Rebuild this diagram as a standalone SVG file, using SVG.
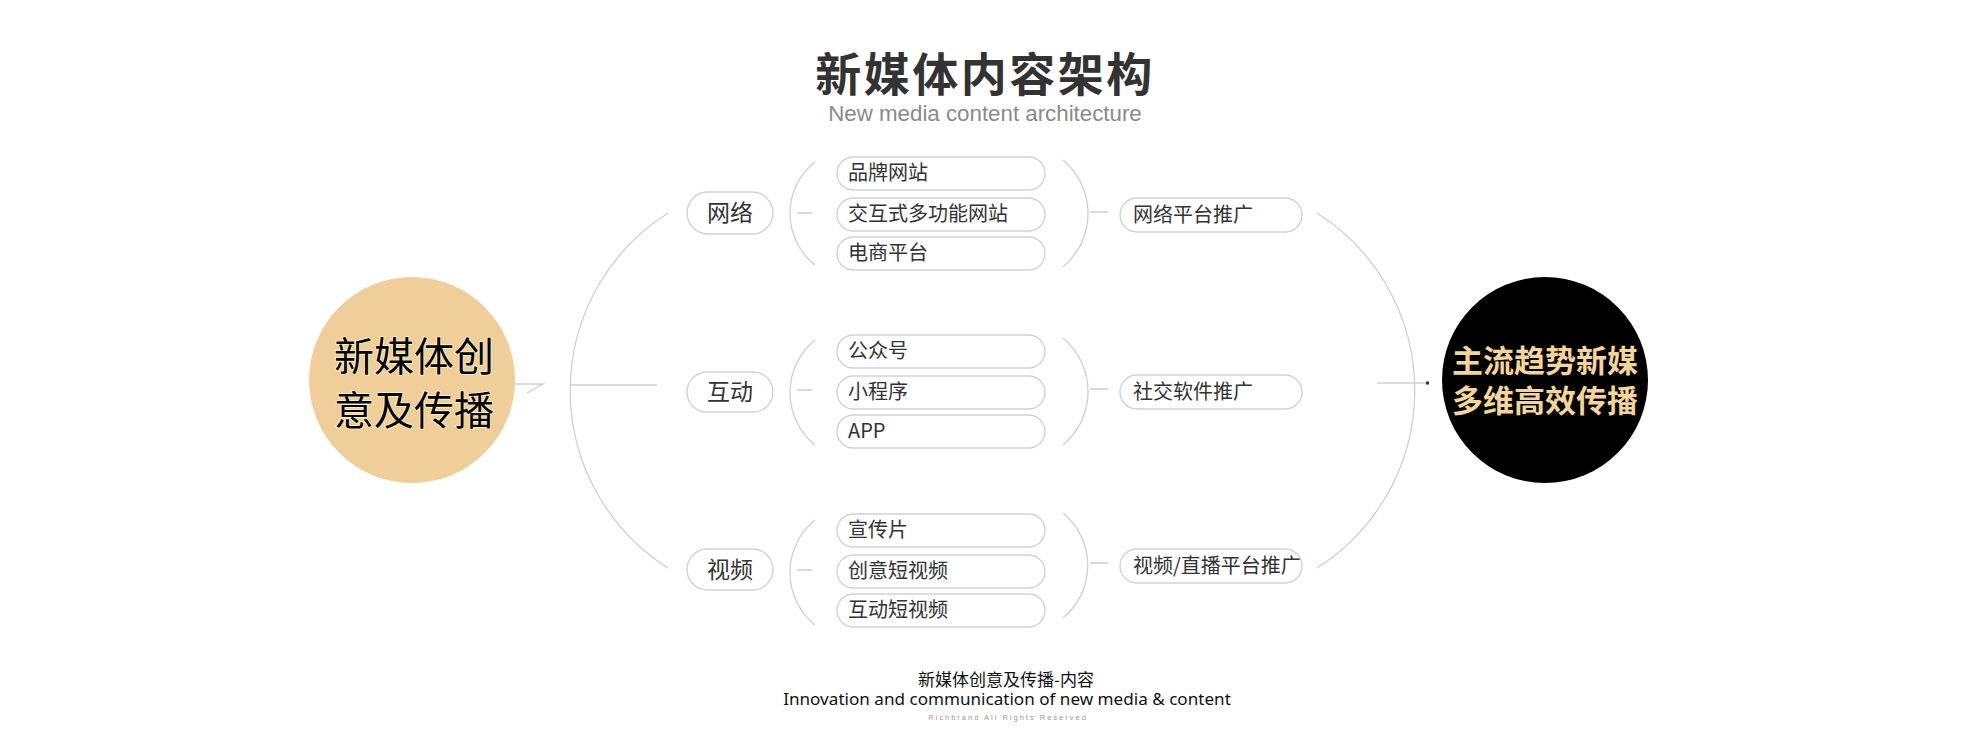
<svg xmlns="http://www.w3.org/2000/svg" width="1980" height="735" viewBox="0 0 1980 735">
<style>
.line{fill:none;stroke:#cfcfcf;stroke-width:1.3}
.pill{fill:#fff;stroke:#d2d2d2;stroke-width:1.4}
.t1{font-family:"Noto Sans CJK SC","Noto Sans",sans-serif;font-size:23px;fill:#333;text-anchor:middle}
.t2{font-family:"Noto Sans CJK SC","Noto Sans",sans-serif;font-size:20px;fill:#333}
</style>
<rect width="1980" height="735" fill="#fff"/>
<g id="title">
<text x="985" y="91" font-family="'Noto Sans CJK SC',sans-serif" font-weight="bold" font-size="46" letter-spacing="2.5" fill="#333" text-anchor="middle">新媒体内容架构</text>
<text x="985" y="121" font-family="'Liberation Sans',sans-serif" font-size="22.3" fill="#8a8a8a" text-anchor="middle">New media content architecture</text>
</g>
<g id="connectors">
<path class="line" d="M510,384 H543 L527,393"/>
<path class="line" d="M668,213 A210,210 0 0 0 668,568"/>
<path class="line" d="M570,385 H657"/>
<path class="line" d="M815,162 A65.5,65.5 0 0 0 815,265"/>
<path class="line" d="M815,340 A67.6,67.6 0 0 0 815,445"/>
<path class="line" d="M815,520 A67.6,67.6 0 0 0 815,625"/>
<path class="line" d="M797,213 H812 M797,390 H812 M797,570 H812"/>
<path class="line" d="M1063,160 A69.7,69.7 0 0 1 1063,267"/>
<path class="line" d="M1063,338 A69.7,69.7 0 0 1 1063,445"/>
<path class="line" d="M1063,513 A68,68 0 0 1 1063,618"/>
<path class="line" d="M1090,212 H1108 M1090,389 H1108 M1090,563 H1108"/>
<path class="line" d="M1317,213 A210,210 0 0 1 1317,568"/>
<path class="line" d="M1377,383 H1427"/>
<rect x="1426" y="381.5" width="3" height="3" fill="#333"/>
</g>
<g id="source">
<circle cx="412" cy="380" r="103" fill="#f0ce9a"/>
<text font-family="'Noto Sans CJK SC',sans-serif" font-size="40" fill="#000" stroke="#fff2cc" stroke-width="1.5" paint-order="stroke" text-anchor="middle"><tspan x="414" y="371">新媒体创</tspan><tspan x="414" y="425">意及传播</tspan></text>
</g>
<g id="target">
<circle cx="1545" cy="380" r="103" fill="#000"/>
<text font-family="'Noto Sans CJK SC',sans-serif" font-weight="bold" font-size="31" fill="#f3d49b" text-anchor="middle"><tspan x="1545" y="372">主流趋势新媒</tspan><tspan x="1545" y="412">多维高效传播</tspan></text>
</g>
<g id="n-network">
<rect class="pill" x="687" y="192" width="86" height="42" rx="21"/>
<text class="t1" x="730" y="221">网络</text>
</g>
<g id="n-interact">
<rect class="pill" x="687" y="372" width="86" height="40" rx="20"/>
<text class="t1" x="730" y="400">互动</text>
</g>
<g id="n-video">
<rect class="pill" x="687" y="549" width="86" height="41" rx="20.5"/>
<text class="t1" x="730" y="578">视频</text>
</g>
<g id="c-brand"><rect class="pill" x="837" y="157" width="208" height="33" rx="16.5"/><text class="t2" x="848" y="180">品牌网站</text></g>
<g id="c-multi"><rect class="pill" x="837" y="198" width="208" height="33" rx="16.5"/><text class="t2" x="848" y="221">交互式多功能网站</text></g>
<g id="c-ecom"><rect class="pill" x="837" y="237" width="208" height="33" rx="16.5"/><text class="t2" x="848" y="260">电商平台</text></g>
<g id="c-official"><rect class="pill" x="837" y="335" width="208" height="33" rx="16.5"/><text class="t2" x="848" y="358">公众号</text></g>
<g id="c-mini"><rect class="pill" x="837" y="376" width="208" height="33" rx="16.5"/><text class="t2" x="848" y="399">小程序</text></g>
<g id="c-app"><rect class="pill" x="837" y="415" width="208" height="33" rx="16.5"/><text class="t2" x="848" y="438">APP</text></g>
<g id="c-promo"><rect class="pill" x="837" y="514" width="208" height="33" rx="16.5"/><text class="t2" x="848" y="537">宣传片</text></g>
<g id="c-creative"><rect class="pill" x="837" y="555" width="208" height="33" rx="16.5"/><text class="t2" x="848" y="578">创意短视频</text></g>
<g id="c-interactive"><rect class="pill" x="837" y="594" width="208" height="33" rx="16.5"/><text class="t2" x="848" y="617">互动短视频</text></g>
<g id="p-network"><rect class="pill" x="1120" y="198" width="182" height="34" rx="17"/><text class="t2" x="1133" y="222">网络平台推广</text></g>
<g id="p-social"><rect class="pill" x="1120" y="375" width="182" height="34" rx="17"/><text class="t2" x="1133" y="399">社交软件推广</text></g>
<g id="p-video"><rect class="pill" x="1120" y="549" width="182" height="34" rx="17"/><text class="t2" x="1133" y="573" font-size="19.3">视频/直播平台推广</text></g>
<g id="footer">
<text x="1006" y="686" font-family="'Noto Sans CJK SC',sans-serif" font-size="17" fill="#111" text-anchor="middle">新媒体创意及传播-内容</text>
<text x="1007" y="705" font-family="'Noto Sans',sans-serif" font-size="17.1" fill="#111" text-anchor="middle">Innovation and communication of new media &amp; content</text>
<text x="1008" y="720" font-family="'Liberation Sans',sans-serif" font-size="7.5" letter-spacing="2" fill="#999" text-anchor="middle">Richbrand All Rights Reserved</text>
</g>
</svg>
